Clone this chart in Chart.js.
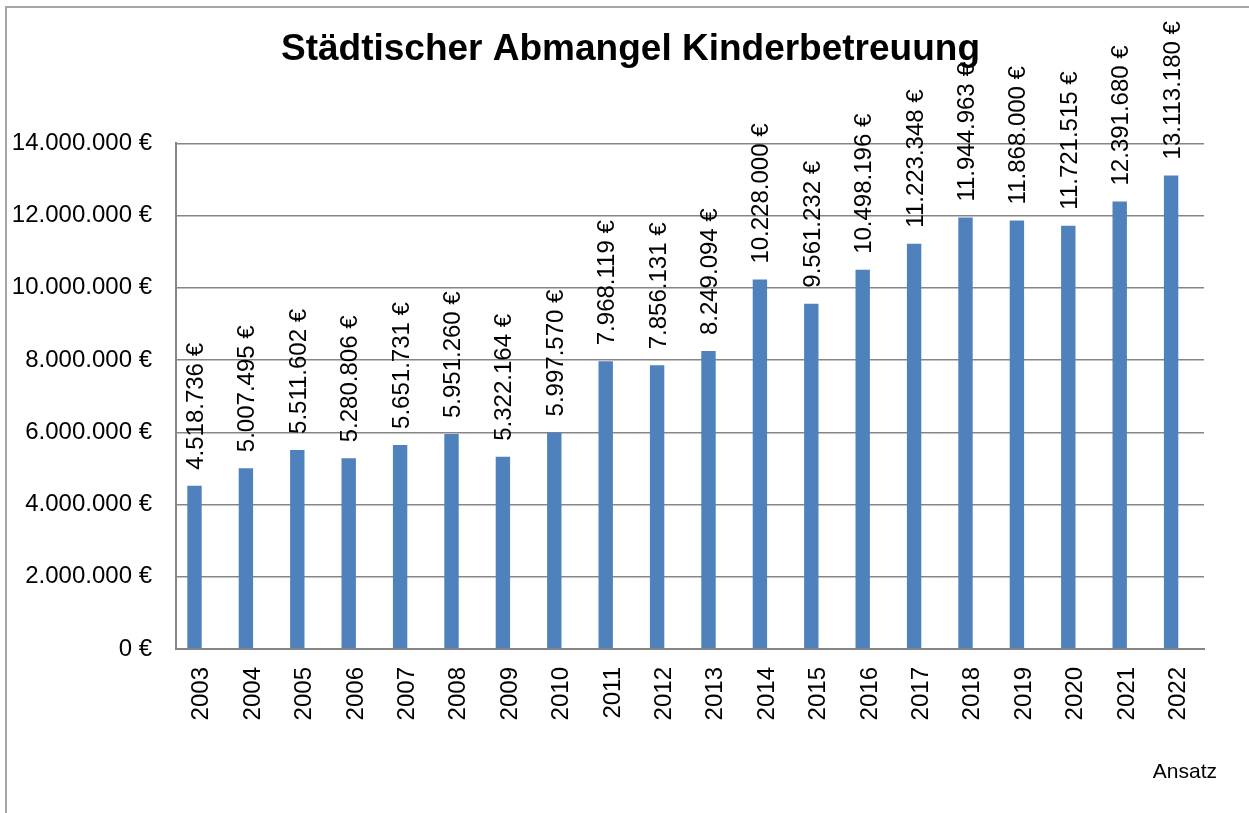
<!DOCTYPE html>
<html>
<head>
<meta charset="utf-8">
<script src="https://cdn.jsdelivr.net/npm/chart.js@4.4.1/dist/chart.umd.min.js"></script>
<style>
  html, body { margin: 0; padding: 0; background: #fff; }
  #wrap { width: 1249px; height: 813px; position: relative; }
</style>
</head>
<body>
<div id="wrap"><canvas id="myChart"></canvas></div>
<script>
const years = ['2003', '2004', '2005', '2006', '2007', '2008', '2009', '2010', '2011', '2012',
    '2013', '2014', '2015', '2016', '2017', '2018', '2019', '2020', '2021', '2022']
const ansatz = [4518736, 5007495, 5511602, 5280806, 5651731, 5951260, 5322164, 5997570, 7968119, 7856131,
    8249094, 10228000, 9561232, 10498196, 11223348, 11944963, 11868000, 11721515, 12391680, 13113180]
const leer = years.map(() => null)
const yMax = 14000000
const yStep = 2000000

const fmt = v => String(v).replace(/\B(?=(\d{3})+(?!\d))/g, '.')

Chart.defaults.font.family = "'Liberation Sans', Arial, sans-serif"
Chart.defaults.color = '#000'

// grey frame like the office chart border
const frame = {
    id: 'frame',
    beforeDraw(chart) {
        const ctx = chart.ctx
        ctx.save()
        ctx.strokeStyle = '#a6a6a6'
        ctx.lineWidth = 2
        ctx.beginPath()
        ctx.moveTo(6, chart.height)
        ctx.lineTo(6, 7)
        ctx.lineTo(chart.width, 7)
        ctx.stroke()
        ctx.restore()
    }
}

// rotated value labels above the bars
const valueLabels = {
    id: 'valueLabels',
    afterDatasetsDraw(chart) {
        const ctx = chart.ctx
        const meta = chart.getDatasetMeta(0)
        ctx.save()
        ctx.font = "24px 'Liberation Sans', Arial, sans-serif"
        ctx.fillStyle = '#000'
        ctx.textAlign = 'left'
        ctx.textBaseline = 'alphabetic'
        meta.data.forEach((bar, i) => {
            ctx.save()
            ctx.translate(bar.x, bar.y - 16)
            ctx.rotate(-Math.PI / 2)
            ctx.fillText(fmt(ansatz[i]) + ' €', 0, 8.5)
            ctx.restore()
        })
        ctx.restore()
    }
}

let ctx = document.getElementById('myChart').getContext('2d')
let myChart = new Chart(ctx, {
    type: 'bar',
    data: {
        labels: years,
        datasets: [{
            label: 'Ansatz',
            data: ansatz,
            backgroundColor: '#4f81bd',
            borderWidth: 0,
            categoryPercentage: 0.56,
            barPercentage: 1
        }, {
            label: '',
            data: leer,
            backgroundColor: 'rgba(0,0,0,0)',
            borderWidth: 0,
            categoryPercentage: 0.56,
            barPercentage: 1
        }]
    },
    plugins: [frame, valueLabels],
    options: {
        responsive: true,
        maintainAspectRatio: false,
        animation: false,
        layout: {
            padding: { top: 0, left: 12, right: 0, bottom: 20 }
        },
        plugins: {
            title: {
                display: true,
                text: 'Städtischer Abmangel Kinderbetreuung',
                color: '#000',
                font: { size: 37, weight: 'bold' },
                padding: { top: 28, bottom: 71 }
            },
            legend: {
                display: true,
                position: 'bottom',
                align: 'end',
                labels: {
                    boxWidth: 0,
                    padding: 32,
                    color: '#000',
                    font: { size: 21 },
                    filter: item => item.datasetIndex === 0
                }
            },
            tooltip: { enabled: false }
        },
        scales: {
            x: {
                grid: { display: false, drawTicks: false },
                border: { display: true, color: '#868686', width: 2 },
                ticks: {
                    minRotation: 90,
                    maxRotation: 90,
                    padding: 18,
                    color: '#000',
                    font: { size: 24 }
                },
                afterFit(scale) { scale.height = 81 }
            },
            y: {
                min: 0,
                max: yMax,
                grid: { color: '#868686', lineWidth: 1.5, drawTicks: false },
                border: { display: true, color: '#868686', width: 2 },
                ticks: {
                    stepSize: yStep,
                    padding: 24,
                    color: '#000',
                    font: { size: 24 },
                    callback: v => fmt(v) + ' €'
                },
                afterFit(scale) { scale.width = 164 }
            },
            y2: {
                position: 'right',
                display: true,
                grid: { display: false, drawTicks: false },
                border: { display: false },
                ticks: { display: false },
                afterFit(scale) { scale.width = 45 }
            }
        }
    }
})
</script>
</body>
</html>
